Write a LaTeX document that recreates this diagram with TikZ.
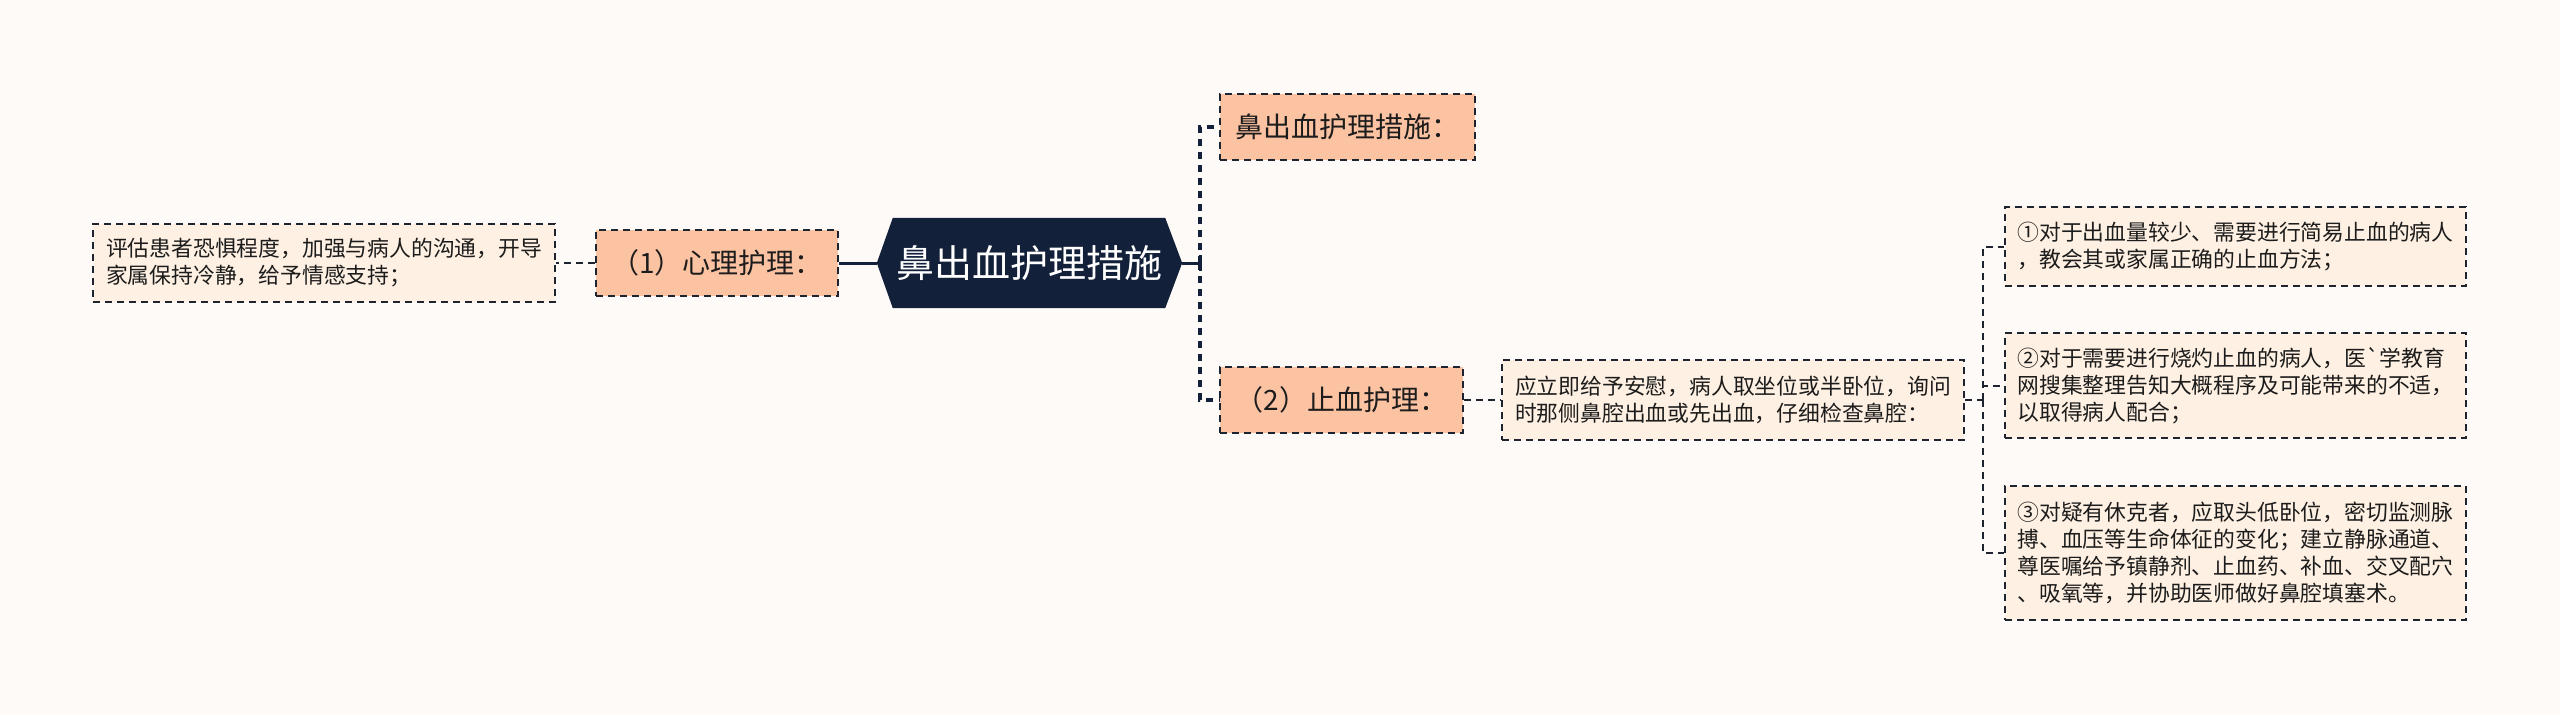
\documentclass[tikz,border=0pt]{standalone}
\usepackage{fontspec}
\newfontfamily\cjk{Noto Sans CJK SC}
\usetikzlibrary{backgrounds}
\definecolor{navy}{HTML}{13203A}
\definecolor{salmon}{HTML}{FCC3A3}
\definecolor{peach}{HTML}{FEF0E2}
\definecolor{bgc}{HTML}{FDFAF8}
\definecolor{edge}{HTML}{1E2330}
\definecolor{txt}{HTML}{1C1C1C}
\tikzset{
  rootbox/.style={inner sep=0pt, minimum width=272pt, minimum height=90pt, text=white,
    font=\cjk\fontsize{38}{42}\selectfont},
  midbox/.style={draw=edge, line width=1.8pt, dash pattern=on 7pt off 5pt, fill=salmon,
    inner sep=0pt, minimum height=66pt, text=txt, font=\cjk\fontsize{28}{32}\selectfont},
  leafbox/.style={draw=edge, line width=1.8pt, dash pattern=on 7pt off 5pt, fill=peach,
    inner sep=0pt, minimum width=461pt, align=left, text=txt, font=\cjk\fontsize{21.8}{27}\selectfont},
  solidc/.style={draw=navy, line width=3pt},
  trunkc/.style={draw=navy, line width=3.5pt, dash pattern=on 7pt off 6pt},
  leafc/.style={draw=edge, line width=2pt, dash pattern=on 7pt off 5pt},
}
\begin{document}
\begin{tikzpicture}[x=1pt,y=-1pt]
\useasboundingbox (0,0) rectangle (2560,715);

\node[rootbox] (root) at (1029,263) {鼻出血护理措施};
\begin{scope}[on background layer]
\fill[bgc] (0,0) rectangle (2560,715);
\fill[navy] (root.north west) -- (root.north east) -- ([xshift=17pt]root.east) -- (root.south east)
  -- (root.south west) -- ([xshift=-16pt]root.west) -- cycle;
\end{scope}

\node[midbox, minimum width=242pt] (p1) at (717,263) {（1）心理护理：};
\node[leafbox, minimum width=462pt, minimum height=78pt] (l1) at (324,263)
  {评估患者恐惧程度，加强与病人的沟通，开导\\家属保持冷静，给予情感支持；};

\node[midbox, minimum width=255pt] (t1) at (1347.5,127) {鼻出血护理措施：};
\node[midbox, minimum width=243pt] (p2) at (1341.5,400) {（2）止血护理：};
\node[leafbox, minimum width=462pt, minimum height=80pt] (m1) at (1733,400)
  {应立即给予安慰，病人取坐位或半卧位，询问\\时那侧鼻腔出血或先出血，仔细检查鼻腔：};

\node[leafbox, minimum height=79pt] (a1) at (2235.5,246.5)
  {①对于出血量较少、需要进行简易止血的病人\\，教会其或家属正确的止血方法；};
\node[leafbox, minimum height=105pt] (b1) at (2235.5,385.5)
  {②对于需要进行烧灼止血的病人，医`学教育\\网搜集整理告知大概程序及可能带来的不适，\\以取得病人配合；};
\node[leafbox, minimum height=134pt] (c1) at (2235.5,553)
  {③对疑有休克者，应取头低卧位，密切监测脉\\搏、血压等生命体征的变化；建立静脉通道、\\尊医嘱给予镇静剂、止血药、补血、交叉配穴\\、吸氧等，并协助医师做好鼻腔填塞术。};

% connectors
\coordinate (tr) at (1200,263);
\coordinate (tr2) at (1983,400);
\draw[solidc] ([xshift=-16pt]root.west) -- (p1.east);
\draw[leafc] (p1.west) -- (l1.east);
\draw[trunkc] (tr) |- (t1.west);
\draw[trunkc] (tr) |- (p2.west);
\draw[solidc] ([xshift=17pt]root.east) -- (tr);
\draw[solidc] ([yshift=-8pt]tr) -- ([yshift=8pt]tr);
\draw[leafc] (p2.east) -- (m1.west);
\draw[leafc] (m1.east) -- (tr2);
\draw[leafc] (tr2) |- (a1.west);
\draw[leafc] (tr2) |- (b1.west);
\draw[leafc] (tr2) |- (c1.west);
\end{tikzpicture}
\end{document}
